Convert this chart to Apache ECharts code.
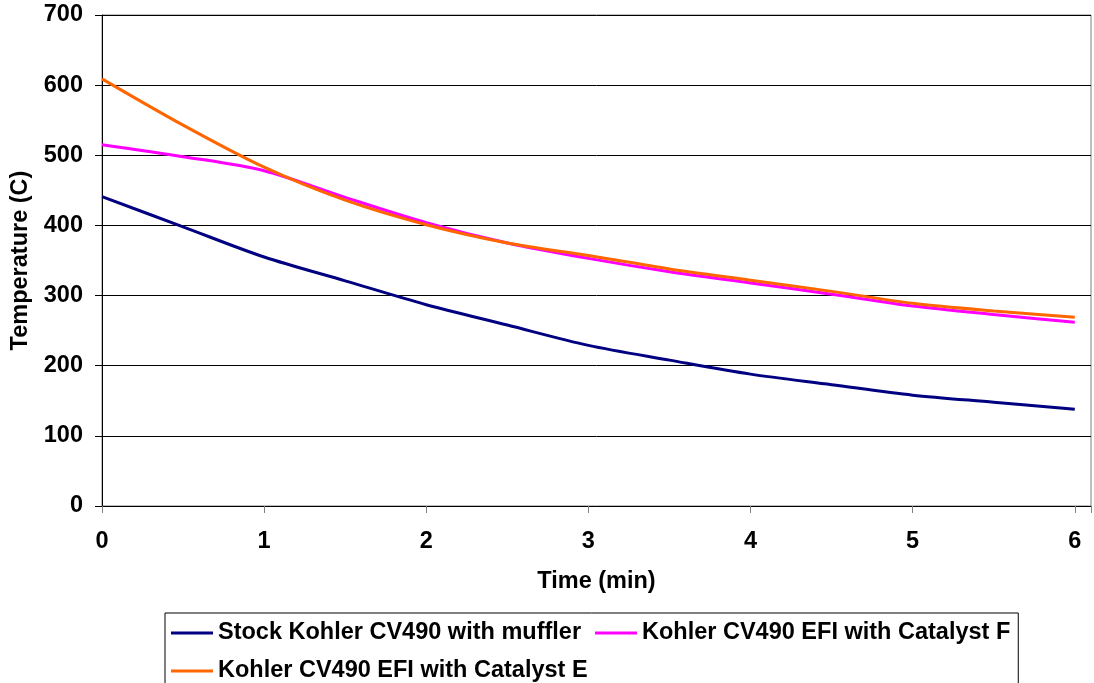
<!DOCTYPE html>
<html>
<head>
<meta charset="utf-8">
<script src="https://cdn.jsdelivr.net/npm/echarts@6/dist/echarts.min.js"></script>
<style>
  html, body { margin: 0; padding: 0; background: #fff; }
  #chartsDom { width: 1094px; height: 683px; }
</style>
</head>
<body>
<div id="chartsDom"></div>
<script>
// time in minutes
const times = [0, 0.5, 1, 1.5, 2, 2.5, 3, 3.5, 4, 4.5, 5, 5.5, 6];
const stockMuffler = [441, 398, 355, 321, 287, 258, 229, 208, 188, 173, 158, 148, 138];
const catalystF = [515, 498, 478, 440, 404, 375, 353, 334, 318, 302, 285, 273, 262];
const catalystE = [609, 543, 483, 436, 401, 375, 357, 338, 322, 306, 289, 278, 269];
const seriesNames = [
  "Stock Kohler CV490 with muffler",
  "Kohler CV490 EFI with Catalyst F",
  "Kohler CV490 EFI with Catalyst E"
];
const yTicks = [0, 100, 200, 300, 400, 500, 600, 700];

const font = "'Liberation Sans', Arial, sans-serif";
const fs = 23.5;
const pairs = vals => times.map((t, i) => [t, vals[i]]);

const myChart = echarts.init(document.getElementById("chartsDom"));
const option = {
  animation: false,
  grid: {
    left: 102,
    right: 1,
    top: 15,
    bottom: 177,
    show: true,
    borderColor: "#808080",
    borderWidth: 1
  },
  legend: {
    left: 165,
    top: 613,
    width: 860,
    padding: [8, 8, 12, 6],
    itemGap: 14,
    itemWidth: 42,
    itemHeight: 3,
    icon: "rect",
    borderColor: "#000",
    borderWidth: 1,
    textStyle: { fontFamily: font, fontWeight: "bold", fontSize: fs, lineHeight: 16, color: "#000" },
    data: seriesNames
  },
  xAxis: {
    type: "value",
    min: 0,
    max: 6.1,
    interval: 1,
    name: "Time (min)",
    nameLocation: "middle",
    nameGap: 64,
    nameTextStyle: { fontFamily: font, fontWeight: "bold", fontSize: fs, color: "#000" },
    axisLine: { lineStyle: { color: "#000" } },
    axisTick: { show: true, length: 7, lineStyle: { color: "#808080" } },
    axisLabel: {
      margin: 24,
      fontFamily: font, fontWeight: "bold", fontSize: fs, color: "#000",
      formatter: v => (Number.isInteger(v) ? String(v) : "")
    },
    splitLine: { show: false }
  },
  yAxis: {
    type: "value",
    min: yTicks[0],
    max: yTicks[yTicks.length - 1],
    interval: 100,
    name: "Temperature (C)",
    nameLocation: "middle",
    nameGap: 66,
    nameTextStyle: { fontFamily: font, fontWeight: "bold", fontSize: fs, color: "#000" },
    axisLine: { show: true, lineStyle: { color: "#000" } },
    axisTick: { show: true, length: 7, lineStyle: { color: "#000" } },
    axisLabel: { margin: 19, fontFamily: font, fontWeight: "bold", fontSize: fs, color: "#000" },
    splitLine: { show: true, lineStyle: { color: "#000", width: 1 } }
  },
  series: [
    {
      name: seriesNames[0], type: "line", smooth: 0.3, showSymbol: false,
      lineStyle: { width: 3, color: "#000080" }, itemStyle: { color: "#000080" },
      data: pairs(stockMuffler)
    },
    {
      name: seriesNames[1], type: "line", smooth: 0.3, showSymbol: false,
      lineStyle: { width: 3, color: "#FF00FF" }, itemStyle: { color: "#FF00FF" },
      data: pairs(catalystF)
    },
    {
      name: seriesNames[2], type: "line", smooth: 0.3, showSymbol: false,
      lineStyle: { width: 3, color: "#FF6600" }, itemStyle: { color: "#FF6600" },
      data: pairs(catalystE)
    }
  ]
};
myChart.setOption(option);
</script>
</body>
</html>
